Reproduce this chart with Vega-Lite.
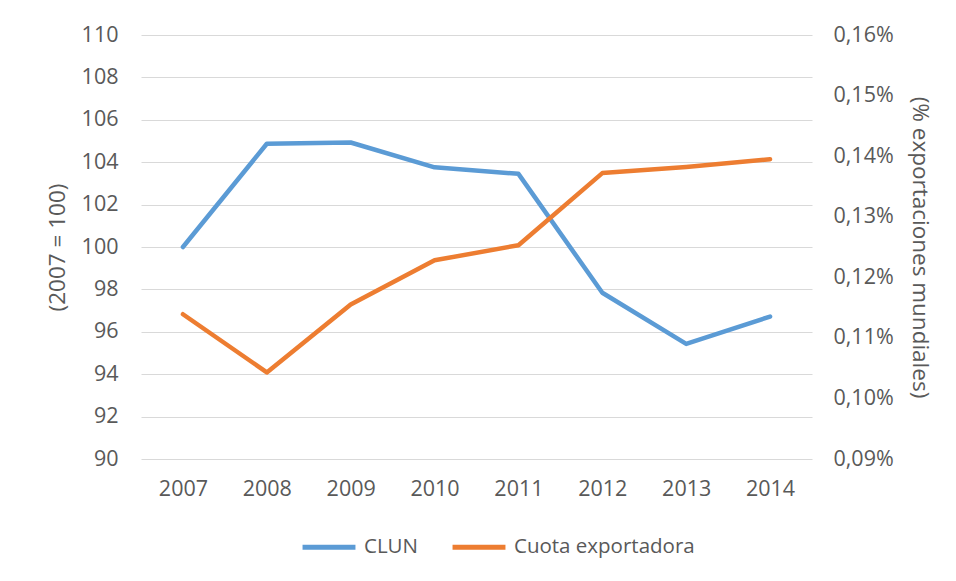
{
  "$schema": "https://vega.github.io/schema/vega-lite/v6.json",
  "width": 671,
  "height": 424,
  "autosize": {"type": "none"},
  "padding": {"left": 141, "top": 35, "right": 144, "bottom": 122},
  "background": "white",
  "config": {
    "locale": {"number": {"decimal": ",", "thousands": ".", "grouping": [3], "currency": ["", " €"]}},
    "font": "Open Sans",
    "view": {"stroke": null},
    "axis": {"labelFont": "Open Sans", "titleFont": "Open Sans", "labelColor": "#595959", "titleColor": "#595959", "labelFontSize": 21.5, "titleFontSize": 22.5, "titleFontWeight": "normal"}
  },
  "data": {"values": [
    {"year": "2007", "clun": 100.0, "cuota": 0.001139},
    {"year": "2008", "clun": 104.87, "cuota": 0.001043},
    {"year": "2009", "clun": 104.93, "cuota": 0.001155},
    {"year": "2010", "clun": 103.76, "cuota": 0.001228},
    {"year": "2011", "clun": 103.45, "cuota": 0.001253},
    {"year": "2012", "clun": 97.84, "cuota": 0.001372},
    {"year": "2013", "clun": 95.43, "cuota": 0.001382},
    {"year": "2014", "clun": 96.72, "cuota": 0.001395}
  ]},
  "encoding": {
    "x": {"field": "year", "type": "ordinal", "scale": {"type": "point", "padding": 0.5},
      "axis": {"title": null, "labelAngle": 0, "domain": false, "ticks": false, "grid": false, "labelPadding": 19}}
  },
  "layer": [
    {
      "mark": {"type": "line", "strokeWidth": 4.5, "strokeCap": "round", "strokeJoin": "round"},
      "encoding": {
        "y": {"field": "clun", "type": "quantitative", "scale": {"domain": [90, 110], "nice": false, "zero": false},
          "axis": {"title": "(2007 = 100)", "orient": "left", "values": [90,92,94,96,98,100,102,104,106,108,110], "domain": false, "ticks": false, "labelPadding": 23, "titlePadding": 12, "gridColor": "#D9D9D9", "gridWidth": 1.2}},
        "color": {"datum": "CLUN", "type": "nominal",
          "scale": {"domain": ["CLUN", "Cuota exportadora"], "range": ["#5B9BD5", "#ED7D31"]},
          "legend": {"title": null, "orient": "none", "legendX": 159, "legendY": 483, "direction": "horizontal", "symbolType": "stroke", "symbolSize": 2800, "symbolStrokeWidth": 5, "labelFontSize": 20.5, "labelColor": "#595959", "labelFont": "Open Sans", "labelLimit": 0, "columnPadding": 24, "labelOffset": 6}}
      }
    },
    {
      "mark": {"type": "line", "strokeWidth": 4.5, "strokeCap": "round", "strokeJoin": "round"},
      "encoding": {
        "y": {"field": "cuota", "type": "quantitative", "scale": {"domain": [0.0009, 0.0016], "nice": false, "zero": false},
          "axis": {"title": "(% exportaciones mundiales)", "orient": "right", "format": ".2%", "values": [0.0009,0.001,0.0011,0.0012,0.0013,0.0014,0.0015,0.0016], "domain": false, "ticks": false, "grid": false, "labelPadding": 21, "titlePadding": 14}},
        "color": {"datum": "Cuota exportadora", "type": "nominal"}
      }
    }
  ],
  "resolve": {"scale": {"y": "independent"}}
}
